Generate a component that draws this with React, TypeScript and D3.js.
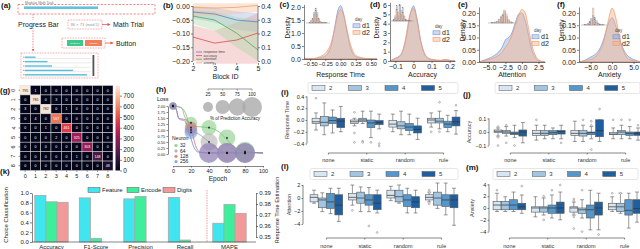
import React, { useEffect, useRef } from "react";
import * as d3 from "d3";

const FONT = "'Liberation Sans', Arial, sans-serif";
const INK = "#333";

// (a) progress list fractions
const PROGRESS_ROWS = [0.16, 0.34, 0.41, 0.73, 0.94];

// (b) block-wise trends
const BLOCK_IDS = [2, 3, 4, 5];
const BLOCK_SERIES = ["response time", "accuracy", "attention", "anxiety"];
const BLOCK_COLORS = ["#5d7fc9", "#d94c4c", "#55a855", "#f0a070"];
const BLOCK_BANDS = ["#9fb6e6", "#eba0a0", "#a6d6a6", "#f7bd98"];
const BLOCK_AXIS = ["left", "left", "right", "right"];
const BLOCK_MEAN = [
  [-0.022, -0.029, -0.051, -0.058],
  [-0.113, -0.135, -0.124, -0.098],
  [0.327, 0.298, 0.204, 0.08],
  [0.39, 0.385, 0.39, 0.405],
];
const BLOCK_LO = [
  [-0.045, -0.06, -0.085, -0.095],
  [-0.2, -0.21, -0.21, -0.21],
  [0.27, 0.22, 0.1, 0.0],
  [0.33, 0.33, 0.34, 0.36],
];
const BLOCK_HI = [
  [0.0, -0.005, -0.02, -0.025],
  [-0.07, -0.09, -0.06, -0.025],
  [0.37, 0.36, 0.32, 0.3],
  [0.42, 0.42, 0.42, 0.42],
];

// (c)-(f) densities
const RT_X = [-0.6, -0.45, -0.35, -0.25, -0.2, -0.15, -0.1, -0.05, 0, 0.05, 0.1, 0.15, 0.2, 0.25, 0.35, 0.45, 0.6];
const RT_D1 = [0, 0.01, 0.04, 0.12, 0.25, 0.55, 1.15, 1.8, 2.05, 1.75, 1.15, 0.55, 0.22, 0.09, 0.03, 0.01, 0];
const RT_D2 = [0, 0.02, 0.08, 0.22, 0.38, 0.65, 1.1, 1.65, 1.9, 1.7, 1.2, 0.68, 0.33, 0.14, 0.05, 0.01, 0];
const ACC_X = [-0.13, -0.12, -0.1, -0.08, -0.06, -0.04, -0.02, 0, 0.02, 0.04, 0.06, 0.08, 0.1, 0.15, 0.18, 0.2, 0.23];
const ACC_D1 = [0, 0.1, 0.3, 0.5, 1.0, 2.5, 4.8, 5.9, 4.5, 2.2, 0.8, 0.3, 0.15, 0.05, 0.12, 0.05, 0];
const ACC_D2 = [0, 0.08, 0.25, 0.45, 1.1, 2.8, 5.0, 5.6, 4.3, 2.1, 0.9, 0.35, 0.2, 0.08, 0.18, 0.08, 0];
const ATT_X = [-6.5, -6, -5, -4, -3, -2.5, -2, -1.5, -1, -0.5, 0, 0.5, 1, 1.5, 2, 2.5, 3.5];
const ATT_D1 = [0, 0.005, 0.015, 0.03, 0.06, 0.09, 0.1, 0.12, 0.16, 0.195, 0.2, 0.17, 0.11, 0.05, 0.02, 0.005, 0];
const ATT_D2 = [0, 0.003, 0.01, 0.02, 0.04, 0.06, 0.08, 0.11, 0.15, 0.19, 0.215, 0.2, 0.14, 0.07, 0.03, 0.01, 0];
const ANX_X = [-7.7, -7, -6, -5, -4, -3, -2, -1, 0, 1, 2, 3, 4, 5, 6, 6.5];
const ANX_D1 = [0, 0.003, 0.01, 0.02, 0.03, 0.05, 0.09, 0.15, 0.18, 0.14, 0.08, 0.04, 0.02, 0.01, 0.004, 0];
const ANX_D2 = [0, 0.002, 0.005, 0.01, 0.02, 0.04, 0.08, 0.16, 0.22, 0.17, 0.08, 0.03, 0.01, 0.005, 0.002, 0];
const RT_HIST1 = [0.05, 0.1, 0.25, 0.7, 1.0, 0.6, 0.25, 0.1, 0.05, 0.03, 0.02, 0.01];
const RT_HIST2 = [0.05, 0.15, 0.3, 0.55, 0.85, 0.7, 0.3, 0.12, 0.05, 0.03, 0.02, 0.01];
const ACC_HIST1 = [0.1, 0.2, 0.9, 0.3, 1.0, 0.4, 0.8, 0.25, 0.1, 0.05, 0.03, 0.02];
const ACC_HIST2 = [0.05, 0.3, 0.7, 0.5, 0.9, 0.6, 0.5, 0.3, 0.1, 0.05, 0.02, 0.02];
const ATT_HIST1 = [0.03, 0.05, 0.08, 0.15, 0.3, 0.5, 0.7, 0.9, 0.5, 0.2, 0.08, 0.03];
const ATT_HIST2 = [0.02, 0.04, 0.06, 0.1, 0.25, 0.45, 0.6, 1.0, 0.7, 0.3, 0.1, 0.03];
const ANX_HIST1 = [0.03, 0.05, 0.1, 0.2, 0.4, 0.55, 0.45, 0.25, 0.12, 0.06, 0.03, 0.02];
const ANX_HIST2 = [0.02, 0.03, 0.06, 0.15, 0.3, 1.0, 0.35, 0.15, 0.08, 0.04, 0.02, 0.01];

// (g) confusion matrix
const DIGITS = [0, 1, 2, 3, 4, 5, 6, 7, 8];
const CONFUSION = [
  [795, 1, 0, 0, 0, 0, 0, 0, 0],
  [0, 785, 0, 3, 0, 0, 0, 0, 0],
  [3, 0, 782, 0, 1, 0, 0, 0, 0],
  [0, 4, 0, 567, 0, 0, 0, 0, 0],
  [0, 0, 1, 0, 461, 0, 0, 0, 0],
  [0, 0, 0, 2, 0, 325, 0, 0, 0],
  [0, 0, 0, 0, 0, 0, 303, 0, 0],
  [0, 0, 0, 0, 0, 1, 0, 148, 0],
  [0, 0, 0, 0, 0, 0, 0, 0, 48],
];
const CBAR_TICKS = [0, 100, 200, 300, 400, 500, 600, 700];
const ROCKET = ["#03051a", "#36193e", "#701f57", "#ad1759", "#e13342", "#f37651", "#f6b48f", "#faebdd"];

// (h) loss and accuracy bubbles
const NEURONS = ["32", "64", "128", "256"];
const NEURON_COLORS = ["#72c472", "#a3a3a3", "#e06a6a", "#6b8fdc"];
const EPOCH_MARKS = [0, 20, 40, 60, 80];
const BUBBLE_LOSS = [
  [2.0, 1.3, 1.1, 0.67, 0.1],
  [2.0, 1.0, 0.5, 0.05, 0.04],
  [2.0, 1.1, 0.05, 0.05, 0.04],
  [2.0, 0.9, 0.04, 0.04, 0.04],
];
const BUBBLE_ACC = [
  [12, 36, 56, 70, 95],
  [12, 40, 72, 96, 98],
  [12, 38, 97, 98, 99],
  [14, 42, 99, 99, 100],
];
const LOSS_CURVES: [number, number][][] = [
  [[0, 2.0], [5, 1.98], [10, 1.9], [13, 1.55], [18, 1.32], [25, 1.15], [40, 1.1], [50, 0.95], [58, 0.68], [68, 0.3], [80, 0.1], [90, 0.06], [100, 0.05]],
  [[0, 2.0], [8, 1.95], [14, 1.7], [20, 1.0], [30, 0.8], [40, 0.5], [50, 0.2], [60, 0.06], [80, 0.05], [100, 0.05]],
  [[0, 2.0], [3, 1.95], [6, 1.5], [14, 1.42], [20, 1.1], [25, 0.35], [30, 0.08], [40, 0.05], [55, 0.04], [65, 0.08], [75, 0.04], [85, 0.06], [100, 0.04]],
  [[0, 2.0], [4, 1.8], [7, 1.45], [13, 1.38], [18, 0.9], [23, 0.3], [28, 0.08], [40, 0.04], [55, 0.05], [70, 0.03], [85, 0.07], [100, 0.03]],
];
const SIZE_TICKS = [25, 50, 75, 100];
const LOSS_TICKS = [0, 0.25, 0.5, 0.75, 1, 1.25, 1.5, 1.75, 2];

// (i),(j),(l),(m) boxplots: [lo, q1, median, q3, hi]
const GROUPS = ["none", "static", "random", "rule"];
const LEVELS = ["2", "3", "4", "5"];
const LEVEL_COLORS = ["#d8e5f2", "#a2c6e2", "#5596cb", "#1f5f9f"];
const RT_BOX = [
  [[-0.17, -0.06, -0.03, 0.03, 0.12], [-0.25, -0.1, -0.04, 0.06, 0.29], [-0.22, -0.06, -0.01, 0.05, 0.17], [-0.2, -0.13, -0.02, 0.03, 0.23]],
  [[-0.1, -0.06, -0.03, 0.0, 0.03], [-0.06, -0.03, 0.0, 0.03, 0.15], [-0.3, -0.13, -0.05, 0.0, 0.15], [-0.15, -0.08, -0.04, -0.01, 0.1]],
  [[-0.2, -0.12, -0.07, -0.01, 0.1], [-0.25, -0.15, -0.1, -0.03, 0.15], [-0.25, -0.18, -0.12, -0.06, 0.1], [-0.33, -0.22, -0.16, -0.1, 0.03]],
  [[-0.12, -0.05, 0.0, 0.03, 0.12], [-0.15, -0.05, -0.02, 0.03, 0.15], [-0.2, -0.13, -0.07, -0.02, 0.08], [-0.24, -0.1, -0.03, 0.05, 0.16]],
];
const RT_OUT = [
  [[0.37], [], [], []],
  [[0.13, -0.22, -0.38], [-0.36, -0.38], [-0.38], [-0.4, -0.44]],
  [[], [], [], []],
  [[-0.2], [0.3, -0.2], [], [0.25]],
];
const ACC_BOX = [
  [[-0.03, -0.005, 0.005, 0.015, 0.03], [-0.03, -0.01, 0.0, 0.01, 0.04], [-0.04, -0.02, -0.01, 0.0, 0.05], [-0.08, -0.03, 0.0, 0.015, 0.07]],
  [[-0.06, -0.025, -0.01, 0.01, 0.05], [-0.05, -0.025, -0.01, 0.01, 0.05], [-0.05, -0.02, -0.005, 0.01, 0.03], [-0.05, -0.015, 0.005, 0.01, 0.05]],
  [[-0.07, -0.025, -0.01, 0.01, 0.08], [-0.07, -0.03, -0.01, 0.01, 0.05], [-0.05, -0.02, -0.005, 0.0, 0.04], [-0.07, -0.035, 0.01, 0.09, 0.09]],
  [[-0.05, -0.02, -0.015, -0.005, 0.03], [-0.05, -0.02, 0.0, 0.01, 0.05], [-0.05, -0.025, -0.01, 0.0, 0.04], [-0.06, -0.025, -0.01, 0.0, 0.03]],
];
const ACC_OUT = [
  [[0.04, -0.04, -0.1], [0.05, -0.08], [-0.1], []],
  [[0.09], [], [], [-0.08]],
  [[], [0.09], [0.08, 0.05, -0.13], [0.17]],
  [[0.09], [0.09], [0.09], [0.05]],
];
const ATT_BOX = [
  [[-0.8, -0.6, 0.1, 0.5, 1.2], [-2.1, -1.5, -0.3, 0.0, 0.8], [-2.4, -1.6, -0.6, 0.7, 1.5], [-3.6, -2.6, -1.1, 0.5, 1.5]],
  [[-1.1, -0.3, 0.1, 0.7, 2.0], [-2.1, -0.8, 0.0, 0.9, 1.7], [-2.1, -1.1, -0.3, 0.5, 1.6], [-2.3, -1.8, -0.8, 0.5, 1.2]],
  [[-0.4, 0.0, 0.4, 1.2, 1.8], [-0.8, -0.6, 0.2, 1.2, 2.0], [-2.3, -1.3, -0.3, 0.5, 1.5], [-2.3, -1.5, -0.6, 0.2, 1.2]],
  [[-0.6, -0.3, 0.1, 0.5, 0.9], [-1.6, -1.1, 0.0, 0.9, 2.3], [-2.6, -1.3, -0.3, 0.5, 2.3], [-4.2, -1.5, -0.3, 0.5, 1.5]],
];
const ATT_OUT = [
  [[], [], [], []],
  [[-1.9], [], [-4.3], [-5.3]],
  [[], [], [], []],
  [[1.2, 0.8, -0.9], [], [], []],
];
const ANX_BOX = [
  [[-0.6, -0.3, 0.5, 1.1, 2.5], [-0.6, -0.3, 0.5, 1.1, 1.9], [-0.6, -0.3, 0.5, 1.4, 2.7], [-0.9, -0.3, 0.2, 0.8, 2.2]],
  [[-1.5, -0.7, 0.0, 0.2, 1.9], [-1.2, -0.7, 0.0, 0.2, 1.7], [-1.7, -0.9, 0.0, 0.5, 2.2], [-2.0, -0.9, 0.0, 1.0, 2.7]],
  [[-1.2, -0.7, 0.0, 0.2, 1.0], [-1.7, -0.9, -0.3, 0.0, 1.4], [-3.7, -1.7, -0.3, 0.5, 3.0], [-3.7, -1.2, 0.0, 1.0, 2.5]],
  [[-0.6, -0.3, 0.2, 0.8, 1.9], [-0.9, -0.6, 0.2, 0.8, 2.5], [-3.4, -1.2, -0.4, 1.4, 2.5], [-2.4, -0.9, -0.1, 1.4, 2.7]],
];
const ANX_OUT = [
  [[3], [], [], [3.7]],
  [[], [2, -2], [3], [3.9]],
  [[1.5, 1.2, -1, -1.5, -3.5], [3, -4], [], [-4.5]],
  [[2.5], [2.5], [], []],
];

// (k) classification / estimation
const METRICS = ["Accuracy", "F1-Score", "Precision", "Recall", "MAPE"];
const MODELS = ["Feature", "Encode", "Digits"];
const MODEL_COLORS = ["#3fe6ef", "#3def9a", "#f29a9a"];
const FEATURE_SCORES = [0.95, 0.9, 0.88, 0.91, 0.3625];
const ENCODE_SCORES = [0.82, 0.07, 0.93, 0.04, 0.3795];
const DIGITS_SCORES = [0.81, null, null, null, 0.3715];
const CLS_TICKS = [0, 0.2, 0.4, 0.6, 0.8, 1.0];
const MAPE_TICKS = [0.35, 0.36, 0.37, 0.38, 0.39];

type G = d3.Selection<any, unknown, null, undefined>;

function txt(g: G, x: number, y: number, s: string, size: number, o: any = {}) {
  const t = g.append("text")
    .attr("x", x).attr("y", y)
    .attr("font-size", size).attr("font-family", FONT)
    .attr("fill", o.fill ?? "#222")
    .attr("text-anchor", o.anchor ?? "start")
    .text(s);
  if (o.weight) t.attr("font-weight", o.weight);
  if (o.rotate) t.attr("transform", `rotate(-90,${x},${y})`);
  return t;
}

const panelLabel = (g: G, x: number, y: number, s: string) => txt(g, x, y, s, 8, { weight: "700", fill: "#111" });

function axis(g: G, kind: string, scale: any, at: number, ticks: number[], fmt: any, size: number, trim = false, tick = 2) {
  const gen = kind === "left" ? d3.axisLeft(scale) : kind === "right" ? d3.axisRight(scale) : d3.axisBottom(scale);
  gen.tickValues(ticks).tickFormat(fmt).tickSize(tick).tickSizeOuter(0).tickPadding(1.2);
  const a = g.append("g")
    .attr("transform", kind === "bottom" ? `translate(0,${at})` : `translate(${at},0)`)
    .call(gen as any);
  a.attr("font-family", FONT).attr("font-size", size);
  a.selectAll(".tick line").attr("stroke", INK).attr("stroke-width", 0.6);
  a.selectAll(".tick text").attr("fill", "#222");
  if (trim) {
    a.select(".domain").remove();
    const [p0, p1] = d3.extent(ticks.map((t) => scale(t))) as [number, number];
    if (kind === "bottom") a.append("line").attr("x1", p0).attr("x2", p1).attr("stroke", INK).attr("stroke-width", 0.6);
    else a.append("line").attr("y1", p0).attr("y2", p1).attr("stroke", INK).attr("stroke-width", 0.6);
  } else {
    a.select(".domain").attr("stroke", INK).attr("stroke-width", 0.6);
  }
  return a;
}

function drawA(svg: G) {
  const g = svg.append("g");
  const red = "#e8585a";
  panelLabel(g, 1, 8, "(a)");
  txt(g, 25, 3.7, "Modular Math Task", 3.4, { fill: "#777" });
  g.append("rect").attr("x", 18).attr("y", 4.5).attr("width", 137).attr("height", 9.5)
    .attr("fill", "none").attr("stroke", red).attr("stroke-width", 0.7).attr("stroke-dasharray", "2.2,1.4");
  g.append("rect").attr("x", 24).attr("y", 6.4).attr("width", 74).attr("height", 2.6).attr("fill", "#5fc4dc");

  // progress arrow
  g.append("line").attr("x1", 33).attr("x2", 33).attr("y1", 14).attr("y2", 51)
    .attr("stroke", red).attr("stroke-width", 0.7).attr("stroke-dasharray", "1.5,1.2").attr("marker-end", "url(#arr)");
  g.append("rect").attr("x", 17).attr("y", 20).attr("width", 41).attr("height", 8).attr("fill", "#fff");
  txt(g, 18, 27, "Progress Bar", 7);

  // math trial
  g.append("rect").attr("x", 68).attr("y", 20).attr("width", 34).attr("height", 9)
    .attr("fill", "#fff").attr("stroke", red).attr("stroke-width", 0.6).attr("stroke-dasharray", "0.8,0.8");
  txt(g, 85, 26.2, "86 × 73 (mod 5)", 4, { anchor: "middle", fill: "#999" });
  g.append("line").attr("x1", 102).attr("x2", 110).attr("y1", 24.5).attr("y2", 24.5)
    .attr("stroke", red).attr("stroke-width", 0.8).attr("marker-end", "url(#arr)");
  txt(g, 113, 27, "Math Trial", 7);

  // buttons
  g.append("rect").attr("x", 62).attr("y", 38).attr("width", 43).attr("height", 10)
    .attr("fill", "none").attr("stroke", red).attr("stroke-width", 0.6).attr("stroke-dasharray", "0.8,0.8");
  g.append("rect").attr("x", 67).attr("y", 40).attr("width", 16).attr("height", 6).attr("fill", "#3cc98a");
  g.append("rect").attr("x", 85).attr("y", 40).attr("width", 17).attr("height", 6).attr("fill", "#f07f5a");
  txt(g, 75, 44, "SUBMIT", 2.5, { anchor: "middle", fill: "#eafff3" });
  txt(g, 93.5, 44, "RESET", 2.5, { anchor: "middle", fill: "#fff0ea" });
  g.append("line").attr("x1", 105).attr("x2", 113).attr("y1", 43).attr("y2", 43)
    .attr("stroke", red).attr("stroke-width", 0.8).attr("marker-end", "url(#arr)");
  txt(g, 116, 45.5, "Button", 7);

  // progress list
  g.append("rect").attr("x", 21).attr("y", 53).attr("width", 77).attr("height", 25)
    .attr("fill", "none").attr("stroke", red).attr("stroke-width", 0.6).attr("stroke-dasharray", "0.8,0.8");
  const px = d3.scaleLinear().domain([0, 1]).range([25, 91]);
  const py = d3.scaleBand<number>().domain(d3.range(PROGRESS_ROWS.length)).range([55, 77]);
  PROGRESS_ROWS.forEach((f, i) => {
    const y = py(i)! + py.bandwidth() / 2;
    g.append("line").attr("x1", px(0)).attr("x2", px(1)).attr("y1", y + 1.3).attr("y2", y + 1.3).attr("stroke", "#ccc").attr("stroke-width", 0.4);
    g.append("rect").attr("x", px(0)).attr("y", y - 0.7).attr("width", px(f) - px(0)).attr("height", 1.4).attr("fill", "#58c0de");
    g.append("rect").attr("x", 23.5).attr("y", y - 0.5).attr("width", 0.8).attr("height", 1).attr("fill", "#444");
  });
  g.append("rect").attr("x", 92.5).attr("y", 55).attr("width", 1.8).attr("height", 21).attr("fill", "#555");
}

function drawB(svg: G) {
  const g = svg.append("g");
  panelLabel(g, 163, 8, "(b)");
  const x = d3.scaleLinear().domain([2, 5]).range([193, 258]);
  const yL = d3.scaleLinear().domain([-0.2, 0]).range([61, 6]);
  const yR = d3.scaleLinear().domain([0, 0.4]).range([61, 6]);
  svg.select("defs").append("clipPath").attr("id", "clipB")
    .append("rect").attr("x", 193).attr("y", 2).attr("width", 65).attr("height", 62);
  const plot = g.append("g").attr("clip-path", "url(#clipB)");
  BLOCK_SERIES.forEach((_, s) => {
    const y = BLOCK_AXIS[s] === "left" ? yL : yR;
    const area = d3.area<number>().x((_, i) => x(BLOCK_IDS[i])).y0((d) => y(d)).y1((_, i) => y(BLOCK_HI[s][i]));
    plot.append("path").attr("d", area(BLOCK_LO[s])!).attr("fill", BLOCK_BANDS[s]).attr("opacity", 0.4);
  });
  BLOCK_SERIES.forEach((_, s) => {
    const y = BLOCK_AXIS[s] === "left" ? yL : yR;
    const line = d3.line<number>().x((_, i) => x(BLOCK_IDS[i])).y((d) => y(d));
    plot.append("path").attr("d", line(BLOCK_MEAN[s])!).attr("fill", "none").attr("stroke", BLOCK_COLORS[s]).attr("stroke-width", 0.8);
  });
  axis(g, "left", yL, 193, [0, -0.05, -0.1, -0.15, -0.2], d3.format(".2f"), 7, true);
  axis(g, "right", yR, 258, [0, 0.1, 0.2, 0.3, 0.4], d3.format(".1f"), 7, true);
  const b = axis(g, "bottom", x, 63, BLOCK_IDS, d3.format("d"), 7, false);
  b.select(".domain").remove();
  txt(g, 225.5, 79, "Block ID", 7, { anchor: "middle" });
  // legend
  BLOCK_SERIES.forEach((name, s) => {
    const y = 52 + s * 3.6;
    g.append("line").attr("x1", 196).attr("x2", 202).attr("y1", y).attr("y2", y).attr("stroke", BLOCK_COLORS[s]).attr("stroke-width", 0.8);
    txt(g, 203.5, y + 1.2, name, 3.4, { fill: "#444" });
  });
}

function drawDensity(svg: G, c: any) {
  const g = svg.append("g");
  panelLabel(g, c.labelX ?? c.lx, 7, c.label);
  const x = d3.scaleLinear().domain(c.xDom).range(c.xRange);
  const y = d3.scaleLinear().domain(c.yDom).range(c.yRange);
  const cols = [["#8eaee0", "#6f93d6"], ["#f6b08a", "#f39a6a"]];
  [c.d1, c.d2].forEach((ys: number[], k: number) => {
    const area = d3.area<number>().x((_, i) => x(c.xs[i])).y0(y(0)).y1((d) => y(d)).curve(d3.curveMonotoneX);
    g.append("path").attr("d", area(ys)!).attr("fill", cols[k][0]).attr("fill-opacity", 0.45)
      .attr("stroke", cols[k][1]).attr("stroke-width", 0.7);
  });
  axis(g, "left", y, c.xRange[0], c.yTicks, c.yFmt, 7, false);
  axis(g, "bottom", x, c.yRange[0], c.xTicks, c.xFmt, c.xFont ?? 7, false);
  txt(g, c.lx + 7, (c.yRange[0] + c.yRange[1]) / 2 - 4, "Density", 6.5, { anchor: "middle", rotate: true });
  txt(g, (c.xRange[0] + c.xRange[1]) / 2, 77, c.title, 7, { anchor: "middle" });

  // inset histogram
  const ix = d3.scaleBand<number>().domain(d3.range(c.h1.length)).range([c.inset[0], c.inset[0] + c.inset[2]]);
  const iy = d3.scaleLinear().domain([0, 1]).range([c.inset[1] + c.inset[3], c.inset[1]]);
  g.append("line").attr("x1", c.inset[0] - 3).attr("x2", c.inset[0] + c.inset[2] + 3)
    .attr("y1", iy(0)).attr("y2", iy(0)).attr("stroke", "#999").attr("stroke-width", 0.5);
  [c.h1, c.h2].forEach((hs: number[], k: number) => {
    hs.forEach((h, i) => {
      g.append("rect").attr("x", ix(i)!).attr("width", ix.bandwidth()).attr("y", iy(h)).attr("height", iy(0) - iy(h))
        .attr("fill", cols[k][0]).attr("fill-opacity", 0.55).attr("stroke", "#888").attr("stroke-width", 0.2);
    });
  });

  // legend
  const [lx, ly] = c.legend;
  txt(g, lx + 2, ly, "day", 4.5, { fill: "#444" });
  ["d1", "d2"].forEach((d, k) => {
    const yy = ly + 5 + k * 6.5;
    g.append("rect").attr("x", lx).attr("y", yy - 2.2).attr("width", 7).attr("height", 4)
      .attr("fill", cols[k][0]).attr("fill-opacity", 0.45).attr("stroke", cols[k][1]).attr("stroke-width", 0.6);
    txt(g, lx + 9, yy + 2.3, d, 7);
  });
}

function drawG(svg: G) {
  const g = svg.append("g");
  panelLabel(g, 0, 93, "(g)");
  const x = d3.scaleBand<number>().domain(DIGITS).range([20, 113]);
  const y = d3.scaleBand<number>().domain(DIGITS).range([85.5, 170.5]);
  const maxV = 795;
  const interp = d3.interpolateRgbBasis(ROCKET);
  const color = d3.scaleSequential(interp).domain([0, maxV]);
  CONFUSION.forEach((row, r) => row.forEach((v, c) => {
    g.append("rect").attr("x", x(c)!).attr("y", y(r)!).attr("width", x.bandwidth()).attr("height", y.bandwidth())
      .attr("fill", color(v)).attr("stroke", "#d8d8d8").attr("stroke-width", 0.5);
    txt(g, x(c)! + x.bandwidth() / 2, y(r)! + y.bandwidth() / 2 + 1.3, String(v), 3.6,
      { anchor: "middle", fill: v > 600 ? "#222" : "#fff" });
  }));
  DIGITS.forEach((d) => {
    const cx = x(d)! + x.bandwidth() / 2;
    g.append("line").attr("x1", cx).attr("x2", cx).attr("y1", 170.5).attr("y2", 172).attr("stroke", INK).attr("stroke-width", 0.5);
    txt(g, cx, 177.5, String(d), 5.5, { anchor: "middle" });
    const cy = y(d)! + y.bandwidth() / 2;
    g.append("line").attr("x1", 18.5).attr("x2", 20).attr("y1", cy).attr("y2", cy).attr("stroke", INK).attr("stroke-width", 0.5);
    txt(g, 15.5, cy, String(d), 5.5, { anchor: "middle", rotate: true });
  });
  // colorbar
  const cb = d3.scaleLinear().domain([0, maxV]).range([170.5, 85.5]);
  const grad = svg.select("defs").append("linearGradient").attr("id", "rocket").attr("x1", 0).attr("x2", 0).attr("y1", 1).attr("y2", 0);
  d3.range(0, 1.001, 0.1).forEach((t) => grad.append("stop").attr("offset", t).attr("stop-color", interp(t)));
  g.append("rect").attr("x", 115.5).attr("y", 85.5).attr("width", 4.5).attr("height", 85).attr("fill", "url(#rocket)");
  const a = axis(g, "right", cb, 120, CBAR_TICKS, d3.format("d"), 6.5, false, 2);
  a.select(".domain").remove();
}

function drawH(svg: G) {
  const g = svg.append("g");
  panelLabel(g, 156, 92, "(h)");
  txt(g, 157, 100.5, "Loss", 5.5);
  const x = d3.scaleLinear().domain([0, 100]).range([173, 263]);
  const y = d3.scaleLinear().domain([0, 2]).range([154, 106]);
  const r = d3.scaleSqrt().domain([0, 100]).range([0, 10]);
  axis(g, "left", y, 168, LOSS_TICKS, d3.format(".2f"), 4, false, 1.5);
  axis(g, "bottom", x, 166, [0, 20, 40, 60, 80, 100], d3.format("d"), 5.5, false, 1.5);
  txt(g, 218, 180.5, "Epoch", 6.5, { anchor: "middle" });

  NEURONS.forEach((_, n) => {
    const line = d3.line<[number, number]>().x((d) => x(d[0])).y((d) => y(d[1])).curve(d3.curveMonotoneX);
    g.append("path").attr("d", line(LOSS_CURVES[n])!).attr("fill", "none").attr("stroke", NEURON_COLORS[n]).attr("stroke-width", 0.8);
  });
  NEURONS.forEach((_, n) => {
    EPOCH_MARKS.forEach((e, i) => {
      g.append("circle").attr("cx", x(e)).attr("cy", y(BUBBLE_LOSS[n][i])).attr("r", r(BUBBLE_ACC[n][i]))
        .attr("fill", NEURON_COLORS[n]).attr("fill-opacity", 0.5);
    });
  });
  NEURONS.forEach((_, n) => {
    EPOCH_MARKS.forEach((e, i) => {
      const cy = y(BUBBLE_LOSS[n][i]);
      g.append("line").attr("x1", x(e)).attr("x2", x(e)).attr("y1", cy - 1.2).attr("y2", cy + 1.2).attr("stroke", "#111").attr("stroke-width", 0.4);
      g.append("rect").attr("x", x(e) - 0.7).attr("y", cy - 0.7).attr("width", 1.4).attr("height", 1.4).attr("fill", "#111");
    });
  });

  // size legend
  const sx = d3.scalePoint<number>().domain(SIZE_TICKS).range([208, 252]);
  g.append("line").attr("x1", sx(25)!).attr("x2", sx(100)!).attr("y1", 89).attr("y2", 89).attr("stroke", INK).attr("stroke-width", 0.5);
  SIZE_TICKS.forEach((s) => {
    g.append("line").attr("x1", sx(s)!).attr("x2", sx(s)!).attr("y1", 89).attr("y2", 90.5).attr("stroke", INK).attr("stroke-width", 0.5);
    txt(g, sx(s)!, 95.5, String(s), 4.5, { anchor: "middle" });
    g.append("circle").attr("cx", sx(s)!).attr("cy", 107).attr("r", r(s)).attr("fill", "#aaa").attr("fill-opacity", 0.8);
  });
  txt(g, 235, 120, "% of Prediction Accuracy", 4.5, { anchor: "middle" });

  // neuron legend
  txt(g, 172, 140, "Neuron", 5);
  NEURONS.forEach((nm, n) => {
    const yy = 145.5 + n * 5.4;
    g.append("circle").attr("cx", 176).attr("cy", yy).attr("r", 1.6).attr("fill", NEURON_COLORS[n]).attr("fill-opacity", 0.8);
    txt(g, 180, yy + 1.7, nm, 5);
  });
}

function drawBoxes(svg: G, c: any) {
  const g = svg.append("g");
  panelLabel(g, c.lx, c.ly, c.label);
  const y = d3.scaleLinear().domain(c.yDom).range(c.yRange);
  const gx = d3.scaleBand<string>().domain(GROUPS).range(c.xRange).paddingInner(0.15).paddingOuter(0.08);
  const lx = d3.scaleBand<string>().domain(LEVELS).range([0, gx.bandwidth()]).paddingInner(0.05);

  // legend box
  const [bx, by, bw] = c.legendBox;
  g.append("rect").attr("x", bx).attr("y", by - 5.5).attr("width", bw).attr("height", 11).attr("rx", 1.5)
    .attr("fill", "#fff").attr("stroke", "#ccc").attr("stroke-width", 0.5);
  const lp = d3.scaleBand<string>().domain(LEVELS).range([bx + 4, bx + bw]);
  LEVELS.forEach((lv, k) => {
    g.append("rect").attr("x", lp(lv)!).attr("y", by - 2.5).attr("width", 13).attr("height", 5)
      .attr("fill", LEVEL_COLORS[k]).attr("stroke", "#555").attr("stroke-width", 0.5);
    txt(g, lp(lv)! + 17, by + 2.2, lv, 6, { fill: "#333" });
  });

  GROUPS.forEach((gr, gi) => {
    LEVELS.forEach((lv, k) => {
      const [lo, q1, md, q3, hi] = c.box[gi][k];
      const x0 = gx(gr)! + lx(lv)!;
      const w = lx.bandwidth();
      const cx = x0 + w / 2;
      const stroke = "#555";
      g.append("line").attr("x1", cx).attr("x2", cx).attr("y1", y(hi)).attr("y2", y(q3)).attr("stroke", stroke).attr("stroke-width", 0.6);
      g.append("line").attr("x1", cx).attr("x2", cx).attr("y1", y(q1)).attr("y2", y(lo)).attr("stroke", stroke).attr("stroke-width", 0.6);
      g.append("line").attr("x1", cx - w / 4).attr("x2", cx + w / 4).attr("y1", y(hi)).attr("y2", y(hi)).attr("stroke", stroke).attr("stroke-width", 0.6);
      g.append("line").attr("x1", cx - w / 4).attr("x2", cx + w / 4).attr("y1", y(lo)).attr("y2", y(lo)).attr("stroke", stroke).attr("stroke-width", 0.6);
      g.append("rect").attr("x", x0).attr("y", y(q3)).attr("width", w).attr("height", Math.max(0.5, y(q1) - y(q3)))
        .attr("fill", LEVEL_COLORS[k]).attr("stroke", stroke).attr("stroke-width", 0.6);
      g.append("line").attr("x1", x0).attr("x2", x0 + w).attr("y1", y(md)).attr("y2", y(md)).attr("stroke", "#333").attr("stroke-width", 0.7);
      c.out[gi][k].forEach((o: number) => {
        g.append("circle").attr("cx", cx).attr("cy", y(o)).attr("r", 0.9).attr("fill", "#fff").attr("stroke", "#777").attr("stroke-width", 0.5);
      });
    });
  });

  axis(g, "left", y, c.axisX, c.yTicks, c.yFmt, 5.5, true, 1.5);
  txt(g, c.ylabelX, (y(c.yTicks[0]) + y(c.yTicks[c.yTicks.length - 1])) / 2, c.ylabel, 5.5, { anchor: "middle", rotate: true, fill: "#444" });
  const centers = GROUPS.map((gr) => gx(gr)! + gx.bandwidth() / 2);
  g.append("line").attr("x1", centers[0]).attr("x2", centers[3]).attr("y1", c.bracketY).attr("y2", c.bracketY).attr("stroke", INK).attr("stroke-width", 0.6);
  GROUPS.forEach((gr, gi) => {
    g.append("line").attr("x1", centers[gi]).attr("x2", centers[gi]).attr("y1", c.bracketY).attr("y2", c.bracketY + 1.5).attr("stroke", INK).attr("stroke-width", 0.6);
    txt(g, centers[gi], c.labelY, gr, 5.5, { anchor: "middle", fill: "#333" });
  });
}

function drawK(svg: G) {
  const g = svg.append("g");
  panelLabel(g, 0, 174, "(k)");
  const x = d3.scaleBand<string>().domain(METRICS).range([29.25, 251.75]).paddingInner(0.25).paddingOuter(0.125);
  const sub = d3.scaleBand<string>().domain(MODELS).range([0, x.bandwidth()]);
  const yL = d3.scaleLinear().domain([0, 1]).range([242, 193]);
  const yR = d3.scaleLinear().domain([0.35, 0.39]).range([237, 193]);
  const series = [FEATURE_SCORES, ENCODE_SCORES, DIGITS_SCORES];
  METRICS.forEach((m, mi) => {
    const y = m === "MAPE" ? yR : yL;
    MODELS.forEach((md, k) => {
      const v = series[k][mi];
      if (v == null) return;
      g.append("rect").attr("x", x(m)! + sub(md)!).attr("width", sub.bandwidth()).attr("y", y(v)).attr("height", 242 - y(v))
        .attr("fill", MODEL_COLORS[k]).attr("stroke", "#a8a8a8").attr("stroke-width", 0.8);
    });
  });
  g.append("line").attr("x1", 207).attr("x2", 207).attr("y1", 190).attr("y2", 242)
    .attr("stroke", "#f06060").attr("stroke-width", 0.6).attr("stroke-dasharray", "1.5,1");
  axis(g, "left", yL, 32, CLS_TICKS, d3.format(".1f"), 6, false, 2);
  axis(g, "right", yR, 256, MAPE_TICKS, d3.format(".2f"), 6, false, 2);
  const b = axis(g, "bottom", x, 242, [], () => "", 6, false, 0);
  b.select(".domain").attr("d", "M32,0H256");
  METRICS.forEach((m) => txt(g, x(m)! + x.bandwidth() / 2, 248.5, m, 6, { anchor: "middle" }));
  txt(g, 8, 215, "Choice Classification", 6, { anchor: "middle", rotate: true });
  txt(g, 279, 210, "Response Time Estimation", 5.6, { anchor: "middle", rotate: true });
  // legend
  const lg = d3.scaleOrdinal<string, number>().domain(MODELS).range([88, 127, 163]);
  MODELS.forEach((md, k) => {
    g.append("rect").attr("x", lg(md)).attr("y", 187.5).attr("width", 12).attr("height", 5)
      .attr("fill", MODEL_COLORS[k]).attr("stroke", "#555").attr("stroke-width", 0.5);
    txt(g, lg(md) + 14, 192.3, md, 6);
  });
}

const App: React.FC = () => {
  const ref = useRef<SVGSVGElement>(null);
  useEffect(() => {
    if (!ref.current) return;
    const svg = d3.select(ref.current);
    svg.selectAll("*").remove();
    const defs = svg.append("defs");
    defs.append("marker").attr("id", "arr").attr("viewBox", "0 0 10 10").attr("refX", 8).attr("refY", 5)
      .attr("markerWidth", 4).attr("markerHeight", 4).attr("orient", "auto")
      .append("path").attr("d", "M0,0L10,5L0,10z").attr("fill", "#e8585a");

    drawA(svg as any);
    drawB(svg as any);
    drawDensity(svg as any, {
      label: "(c)", lx: 283, labelX: 279.5, xs: RT_X, d1: RT_D1, d2: RT_D2, xDom: [-0.6, 0.6], xRange: [304, 377],
      yDom: [0, 2.1], yRange: [59, 4.4], xTicks: [-0.5, -0.25, 0, 0.25, 0.5], xFmt: d3.format(".2f"), xFont: 5.6,
      yTicks: [0, 0.5, 1, 1.5, 2], yFmt: d3.format(".1f"), title: "Response Time",
      h1: RT_HIST1, h2: RT_HIST2, inset: [309, 8, 18, 15], legend: [353, 21],
    });
    drawDensity(svg as any, {
      label: "(d)", lx: 372, labelX: 370, xs: ACC_X, d1: ACC_D1, d2: ACC_D2, xDom: [-0.13, 0.23], xRange: [390, 455],
      yDom: [0, 6.3], yRange: [61, 2.2], xTicks: [-0.1, 0, 0.1, 0.2], xFmt: d3.format("~g"),
      yTicks: [0, 1, 2, 3, 4, 5, 6], yFmt: d3.format("d"), title: "Accuracy",
      h1: ACC_HIST1, h2: ACC_HIST2, inset: [393, 4, 18, 17], legend: [433, 28],
    });
    drawDensity(svg as any, {
      label: "(e)", lx: 458, xs: ATT_X, d1: ATT_D1, d2: ATT_D2, xDom: [-6.5, 3.5], xRange: [479, 545],
      yDom: [0, 0.225], yRange: [62, 6.9], xTicks: [-5, -2.5, 0, 2.5], xFmt: d3.format(".1f"),
      yTicks: [0, 0.05, 0.1, 0.15, 0.2], yFmt: d3.format(".2f"), title: "Attention",
      h1: ATT_HIST1, h2: ATT_HIST2, inset: [491, 10, 22, 13], legend: [532, 32],
    });
    drawDensity(svg as any, {
      label: "(f)", lx: 557, xs: ANX_X, d1: ANX_D1, d2: ANX_D2, xDom: [-7.7, 6.5], xRange: [579, 640],
      yDom: [0, 0.225], yRange: [62, 6.9], xTicks: [-5, 0, 5], xFmt: d3.format(".1f"),
      yTicks: [0, 0.05, 0.1, 0.15, 0.2], yFmt: d3.format(".2f"), title: "Anxiety",
      h1: ANX_HIST1, h2: ANX_HIST2, inset: [584, 8, 20, 17], legend: [613, 32],
    });
    drawG(svg as any);
    drawH(svg as any);
    drawBoxes(svg as any, {
      label: "(i)", lx: 281, ly: 95, box: RT_BOX, out: RT_OUT, yDom: [-0.45, 0.45], yRange: [146.5, 93.5],
      yTicks: [-0.4, -0.2, 0, 0.2, 0.4], yFmt: d3.format(".1f"), ylabel: "Response Time", ylabelX: 289,
      axisX: 307, xRange: [309, 463], legendBox: [308, 88, 150], bracketY: 153, labelY: 162,
    });
    drawBoxes(svg as any, {
      label: "(j)", lx: 463, ly: 97, box: ACC_BOX, out: ACC_OUT, yDom: [-0.15, 0.17], yRange: [152.3, 109],
      yTicks: [-0.1, 0, 0.1], yFmt: d3.format(".1f"), ylabel: "Accuracy", ylabelX: 471,
      axisX: 489, xRange: [491, 645], legendBox: [495, 88, 145], bracketY: 153, labelY: 162,
    });
    drawBoxes(svg as any, {
      label: "(l)", lx: 281, ly: 169, box: ATT_BOX, out: ATT_OUT, yDom: [-5.5, 3], yRange: [233.75, 178.5],
      yTicks: [-4, -2, 0, 2], yFmt: d3.format("d"), ylabel: "Attention", ylabelX: 291,
      axisX: 303, xRange: [307, 461], legendBox: [310, 174, 148], bracketY: 238, labelY: 247.5,
    });
    drawBoxes(svg as any, {
      label: "(m)", lx: 466, ly: 170, box: ANX_BOX, out: ANX_OUT, yDom: [-5, 4.3], yRange: [237.5, 182.6],
      yTicks: [-4, -2, 0, 2, 4], yFmt: d3.format("d"), ylabel: "Anxiety", ylabelX: 474,
      axisX: 489, xRange: [490, 644], legendBox: [493, 174, 145], bracketY: 238, labelY: 247.5,
    });
    drawK(svg as any);
  }, []);

  return (
    <svg ref={ref} width={640} height={249}
      style={{ position: "absolute", left: 0, top: 0, background: "#fff", display: "block" }} />
  );
};

export default App;
